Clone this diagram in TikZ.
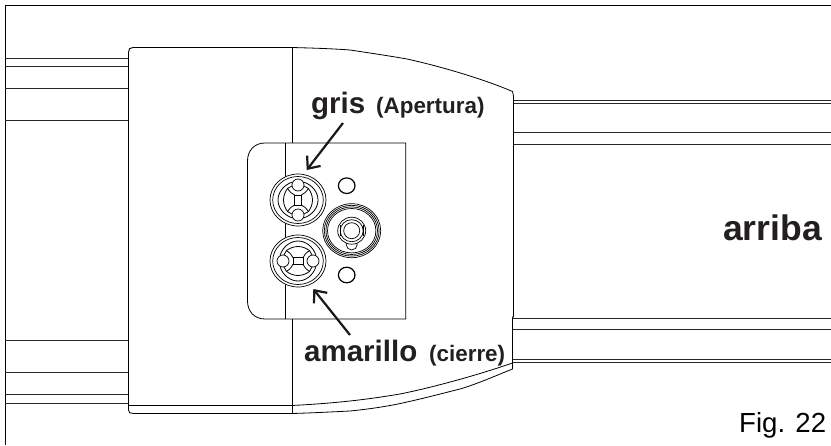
\documentclass[tikz,border=0pt]{standalone}
\usepackage{fontspec}
\setmainfont{Liberation Sans}
\usetikzlibrary{arrows.meta}
\definecolor{inkdark}{HTML}{231F20}
\tikzset{
  outline/.style={black, line width=0.8pt},
  rail/.style={black!85, line width=0.9pt},
  thin ring/.style={black, line width=0.7pt, fill=white},
  callout/.style={-{Straight Barb[length=10pt,width=17pt,line width=2.2pt]}, line width=2.2pt, black!90},
  biglabel/.style={inner sep=0pt, anchor=base west, text=inkdark, font=\bfseries\fontsize{29.5}{30}\selectfont},
  smalllabel/.style={inner sep=0pt, anchor=base west, text=inkdark, font=\bfseries\fontsize{22.4}{23}\selectfont},
}
% one valve with its two bores on the local vertical axis
\newcommand{\valve}[3]{%
  \draw[thin ring] (#1,#2) ellipse (28 and 26);
  \draw[thin ring] (#1,#2) ellipse (25.3 and 23.5);
  \begin{scope}[shift={(#1,#2)}, rotate=#3]
    \foreach \sx in {1,-1} \foreach \sy in {1,-1} {
      \begin{scope}[xscale=\sx, yscale=\sy]
        \draw[outline] (3.3,0) -- (3.3,5) -- (0,5);
        \draw[outline] (3.3,5) .. controls (6,6) and (8,8) .. (10.5,11.5);
        \draw[outline] (14.5,0) .. controls (14.5,4) and (13,8) .. (10.5,11.5) -- (6,14);
        \draw[outline] (20,0) .. controls (20,7) and (15,15) .. (5.5,18);
      \end{scope}
    }
    \draw[thin ring] (0,-15) circle (6);
    \draw[thin ring] (0,15) circle (6);
  \end{scope}
}
\begin{document}
\begin{tikzpicture}[x=1pt, y=-1pt]
\useasboundingbox (0,0) rectangle (831,445);
% frame
\draw[outline] (831,5) -- (5,5) -- (5,445);
% rails
\foreach \ypos in {58,66.5,88,120,340,372.5,394,403} {
  \draw[rail] (5,\ypos) -- (128,\ypos);
}
\foreach \ypos in {100,103,132.5,144,318,329,359,362} {
  \draw[rail] (513,\ypos) -- (831,\ypos);
}
% body
\draw[outline] (128.5,52) .. controls (128.5,49) and (130,47.5) .. (133,47.5) -- (292,47.5)
  .. controls (310,48) and (330,48.5) .. (350,50)
  .. controls (370,53) and (390,56) .. (407,59)
  .. controls (425,63) and (440,67) .. (457,72)
  .. controls (477,78) and (495,84) .. (512.5,91.5) -- (513.5,96) -- (513.5,317)
  -- (512.5,317) -- (512.5,369)
  .. controls (495,376) and (477,384) .. (460,389)
  .. controls (440,394) and (425,398) .. (407,402)
  .. controls (390,406) and (370,409) .. (350,411)
  .. controls (330,412) and (310,413) .. (292,413.5) -- (133,413.5)
  .. controls (130,413.5) and (128.5,412.5) .. (128.5,410) -- cycle;
\draw[outline] (128.5,405.5) -- (292,405.5)
  .. controls (340,403) and (370,399) .. (400,394)
  .. controls (430,388) and (475,376) .. (512.5,363);
\draw[outline] (292,47.5) -- (292,143);
\draw[outline] (292,319) -- (292,413.5);
% panel
\draw[outline] (285,143) -- (405.7,143) -- (405.7,319) -- (265,319)
  .. controls (254,319) and (247.5,311) .. (247.5,301) -- (247.5,161)
  .. controls (247.5,151) and (254,143) .. (265,143) -- cycle;
\draw[outline] (285,143) -- (285,319);
% valves
\valve{298}{200}{0}
\valve{298}{261}{90}
\draw[thin ring, line width=1.2pt] (346.7,185.7) ellipse (8.3 and 7.8);
\draw[thin ring, line width=1.2pt] (346.7,275) ellipse (8.3 and 7.8);
\foreach \rad in {0,1.6,3.2,4.8} {
  \draw[thin ring] (351.7,230.7) ellipse ({29-\rad} and {27-\rad});
}
\draw[thin ring] (351.7,244.5) circle (5.5);
\draw[thin ring] (351.7,230.7) ellipse (14 and 13.5);
\draw[thin ring] (351.7,230.7) ellipse (11.5 and 11);
\draw[thin ring] (351.7,230.7) circle (8);
\draw[outline] (340.5,225) -- (340.5,236);
\draw[outline] (362.9,225) -- (362.9,236);
% labels
\node[biglabel] (gris) at (311,113) {gris};
\node[smalllabel] (apertura) at (376,113) {(Apertura)};
\node[biglabel] (amarillo) at (304,361.5) {amarillo};
\node[smalllabel] (cierre) at (429,361.5) {(cierre)};
\node[biglabel, font=\bfseries\fontsize{35.5}{36}\selectfont] (arriba) at (723,240) {arriba};
\node[inner sep=0pt, anchor=base west, font=\fontsize{27.6}{28}\selectfont] (fig) at (739,432) {Fig. 22};
% arrows
\coordinate (griseye) at (343,123);
\coordinate (grisport) at (306.7,170);
\coordinate (amarilloeye) at (350,335);
\coordinate (amarilloport) at (313.3,289);
\draw[callout] (griseye) -- (grisport);
\draw[callout] (amarilloeye) -- (amarilloport);
\end{tikzpicture}
\end{document}
